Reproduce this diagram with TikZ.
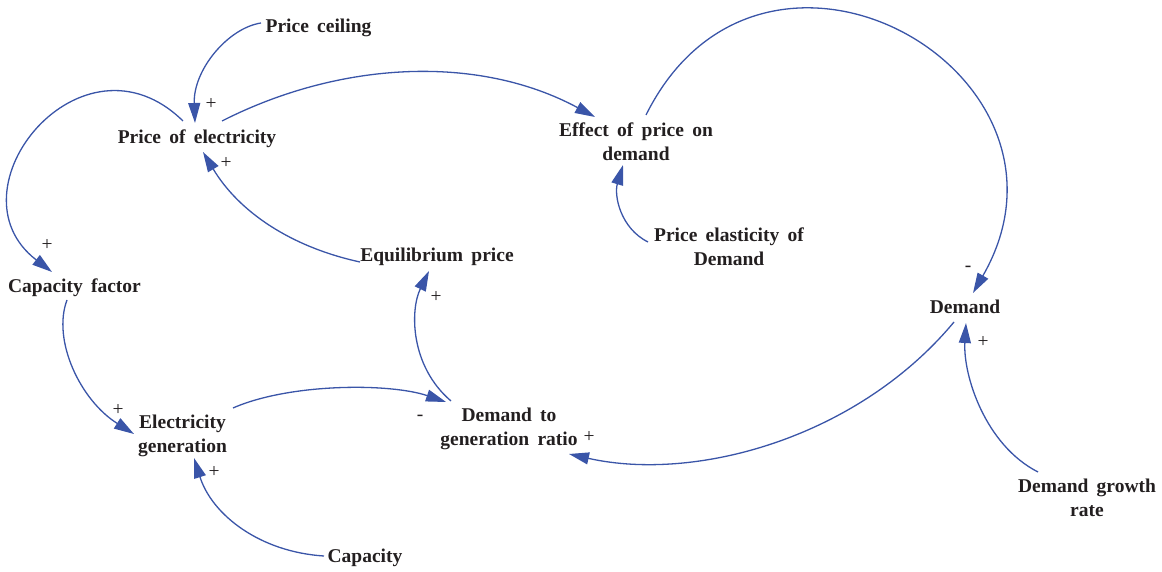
\documentclass[tikz,border=0pt]{standalone}
\usepackage{fontspec}
\setmainfont{Liberation Serif}
\newfontfamily\varfont{Liberation Serif}[WordSpace=1.7]
\usetikzlibrary{arrows.meta}
\definecolor{linkblue}{HTML}{3A55A8}
\definecolor{inkgray}{HTML}{231F20}

\begin{document}
\begin{tikzpicture}[x=1pt, y=1pt,
    vname/.style={anchor=base, inner sep=0pt, align=center, text=inkgray,
      font=\varfont\bfseries\fontsize{19.5}{24}\selectfont},
    sgn/.style={inner sep=0pt, text=inkgray, font=\fontsize{19.5}{24}\selectfont},
    link/.style={draw=linkblue, line width=1.3pt,
      -{Triangle[length=20pt, width=12pt, fill=linkblue]}}]
    \useasboundingbox (0,0) rectangle (1162,572);
    % variables
    \node[vname] (pc) at (318.5,539) {Price ceiling};
    \node[vname] (pe) at (197,428) {Price of electricity};
    \node[vname] (ef) at (636,411) {Effect of price on\\demand};
    \node[vname] (pd) at (729,306) {Price elasticity of\\Demand};
    \node[vname] (eq) at (437,310) {Equilibrium price};
    \node[vname] (cf) at (74.5,279) {Capacity factor};
    \node[vname] (dm) at (965,258) {Demand};
    \node[vname] (eg) at (182.5,119) {Electricity\\generation};
    \node[vname] (dr) at (509,126) {Demand to\\generation ratio};
    \node[vname] (cp) at (365,9) {Capacity};
    \node[vname] (dg) at (1087,55) {Demand growth\\rate};
    % causal links
    \draw[link] ([shift={(-57.5,10)}]pc.base) .. controls +(-33,-5) and +(-2,53) .. ([shift={(-2,21)}]pe.base);
    \draw[link] ([shift={(25,23)}]pe.base) .. controls +(118,60) and +(-117,63) .. ([shift={(-41,44)}]ef.base);
    \draw[link] ([shift={(-14,23)}]pe.base) .. controls +(-101,99) and +(-107,82) .. ([shift={(-22.5,21)}]cf.base);
    \draw[link] ([shift={(-77,0)}]eq.base) .. controls +(-69,15) and +(36,-60) .. ([shift={(6,-8)}]pe.base);
    \draw[link] ([shift={(-81,24)}]pd.base) .. controls +(-28,14) and +(-9,-30) .. ([shift={(-13,-4)}]ef.base);
    \draw[link] ([shift={(10,46)}]ef.base) .. controls +(116,233) and +(127,221) .. ([shift={(8,21)}]dm.base);
    \draw[link] ([shift={(-7.5,-7)}]cf.base) .. controls +(-15,-40) and +(-54,34) .. ([shift={(-48.5,19)}]eg.base);
    \draw[link] ([shift={(50.5,45)}]eg.base) .. controls +(57,25) and +(-56,19) .. ([shift={(-63,44)}]dr.base);
    \draw[link] ([shift={(-58,45)}]dr.base) .. controls +(-41,35) and +(-19,-39) .. ([shift={(-8,-9)}]eq.base);
    \draw[link] ([shift={(-11,-8)}]dm.base) .. controls +(-96,-115.5) and +(127,-28.6) .. ([shift={(60,-8)}]dr.base);
    \draw[link] ([shift={(-49,45)}]dg.base) .. controls +(-53,27) and +(-3,-52) .. ([shift={(1,-9)}]dm.base);
    \draw[link] ([shift={(-41,7)}]cp.base) .. controls +(-64,4) and +(18,-57) .. ([shift={(11.5,-5)}]eg.base);
    % polarities
    \node[sgn] (s1) at (211,468) {+};
    \node[sgn] (s2) at (226,409) {+};
    \node[sgn] (s3) at (47,327) {+};
    \node[sgn] (s4) at (968,303) {-};
    \node[sgn] (s5) at (983,230) {+};
    \node[sgn] (s6) at (436,275) {+};
    \node[sgn] (s7) at (118,162) {+};
    \node[sgn] (s8) at (420,154) {-};
    \node[sgn] (s9) at (589,135) {+};
    \node[sgn] (s10) at (214,100) {+};
\end{tikzpicture}
\end{document}
